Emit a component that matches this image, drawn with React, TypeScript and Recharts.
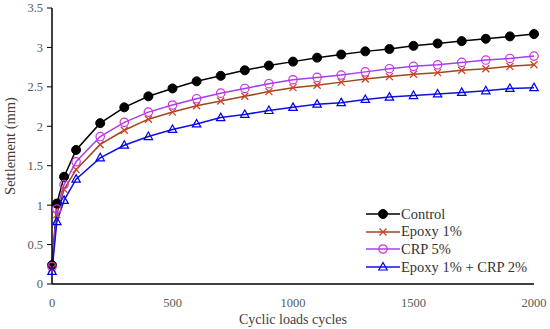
import React from 'react';
import { LineChart, Line, XAxis, YAxis } from 'recharts';

const cycles = [0, 20, 50, 100, 200, 300, 400, 500, 600, 700, 800, 900, 1000, 1100, 1200, 1300, 1400, 1500, 1600, 1700, 1800, 1900, 2000];
const control = [0.24, 1.02, 1.36, 1.7, 2.04, 2.24, 2.38, 2.48, 2.57, 2.64, 2.71, 2.77, 2.82, 2.87, 2.91, 2.95, 2.98, 3.02, 3.05, 3.08, 3.11, 3.14, 3.17];
const epoxy = [0.2, 0.88, 1.2, 1.45, 1.77, 1.95, 2.09, 2.18, 2.26, 2.32, 2.38, 2.44, 2.49, 2.52, 2.56, 2.6, 2.63, 2.66, 2.68, 2.71, 2.73, 2.76, 2.78];
const crp = [0.22, 0.95, 1.26, 1.55, 1.87, 2.05, 2.18, 2.27, 2.35, 2.42, 2.48, 2.54, 2.59, 2.62, 2.65, 2.69, 2.73, 2.76, 2.78, 2.81, 2.84, 2.86, 2.89];
const epoxyCrp = [0.16, 0.79, 1.06, 1.33, 1.6, 1.76, 1.87, 1.96, 2.03, 2.11, 2.15, 2.2, 2.24, 2.28, 2.3, 2.34, 2.37, 2.39, 2.41, 2.43, 2.45, 2.48, 2.49];
const xTicks = [0, 500, 1000, 1500, 2000];
const yTicks = [0, 0.5, 1, 1.5, 2, 2.5, 3, 3.5];
const seriesNames = ['Control', 'Epoxy 1%', 'CRP 5%', 'Epoxy 1% + CRP 2%'];

const data = cycles.map((c, i) => ({
  c,
  control: control[i],
  epoxy: epoxy[i],
  crp: crp[i],
  epoxyCrp: epoxyCrp[i],
}));

const FONT = 'Liberation Serif';

const drawMarker = (kind: string, cx: number, cy: number, key?: any) => {
  if (kind === 'control') return <circle key={key} cx={cx} cy={cy} r={4.5} fill="#000" stroke="#000" />;
  if (kind === 'crp') return <circle key={key} cx={cx} cy={cy} r={4.2} fill="none" stroke="#D22FE0" strokeWidth={1.2} />;
  if (kind === 'epoxy')
    return (
      <g key={key}>
        <line x1={cx - 3.5} y1={cy - 3.5} x2={cx + 3.5} y2={cy + 3.5} stroke="#D0401E" strokeWidth={1.3} />
        <line x1={cx - 3.5} y1={cy + 3.5} x2={cx + 3.5} y2={cy - 3.5} stroke="#D0401E" strokeWidth={1.3} />
      </g>
    );
  return <path key={key} d={`M${cx},${cy - 4.5} L${cx + 4.2},${cy + 3} L${cx - 4.2},${cy + 3} Z`} fill="none" stroke="#0000EE" strokeWidth={1.2} />;
};

const mkDot = (kind: string) => (props: any) => drawMarker(kind, props.cx, props.cy, `${kind}-${props.index}`);

const series = [
  { key: 'control', color: '#000000' },
  { key: 'epoxy', color: '#A0461E' },
  { key: 'crp', color: '#A040F0' },
  { key: 'epoxyCrp', color: '#1010E0' },
];

const YLabel = () => (
  <text x={0} y={0} transform="translate(15,146) rotate(-90)" textAnchor="middle" fill="#404040" style={{ fontSize: 14.5, fontFamily: FONT }}>
    Settlement (mm)
  </text>
);

const XLabel = () => (
  <text x={293} y={324} textAnchor="middle" fill="#404040" style={{ fontSize: 14, fontFamily: FONT }}>
    Cyclic loads cycles
  </text>
);

const tickStyle = { fill: '#595959', fontSize: 12.5, fontFamily: FONT, style: { fontFamily: FONT } };

export default function App() {
  return (
    <div style={{ position: 'absolute', left: 0, top: 0, width: 550, height: 329, background: '#fff', fontFamily: FONT }}>
      <LineChart width={550} height={329} data={data} margin={{ top: 8, right: 16, bottom: 15, left: 0 }} style={{ fontFamily: FONT }}>
        <XAxis
          dataKey="c"
          type="number"
          domain={[0, 2000]}
          ticks={xTicks}
          tickLine={false}
          axisLine={{ stroke: '#000', strokeWidth: 1.5 }}
          tick={tickStyle}
          tickMargin={8}
          height={30}
          label={<XLabel />}
        />
        <XAxis xAxisId="top" orientation="top" type="number" domain={[0, 2000]} tick={false} tickLine={false} height={0} axisLine={{ stroke: '#000', strokeWidth: 1.5 }} />
        <YAxis
          type="number"
          domain={[0, 3.5]}
          ticks={yTicks}
          width={52}
          tickSize={5}
          tickLine={{ stroke: '#000' }}
          axisLine={{ stroke: '#000', strokeWidth: 1.5 }}
          tick={tickStyle}
          tickMargin={4}
          label={<YLabel />}
        />
        <YAxis yAxisId="right" orientation="right" domain={[0, 3.5]} tick={false} tickLine={false} width={0} axisLine={{ stroke: '#000', strokeWidth: 1.5 }} />
        {series.map((s) => (
          <Line
            key={s.key}
            dataKey={s.key}
            stroke={s.color}
            strokeWidth={1.5}
            dot={mkDot(s.key)}
            activeDot={false}
            isAnimationActive={false}
          />
        ))}
      </LineChart>
      <div style={{ position: 'absolute', left: 366, top: 205, fontFamily: FONT, fontSize: 14.5, color: '#333', lineHeight: 1 }}>
        {series.map((s, i) => (
          <div key={s.key} style={{ display: 'flex', alignItems: 'center', height: 17.7 }}>
            <svg width={34} height={14} style={{ marginRight: 1 }}>
              <line x1={0} y1={7} x2={34} y2={7} stroke={s.color} strokeWidth={1.5} />
              {drawMarker(s.key, 17, 7)}
            </svg>
            <span>{seriesNames[i]}</span>
          </div>
        ))}
      </div>
    </div>
  );
}
